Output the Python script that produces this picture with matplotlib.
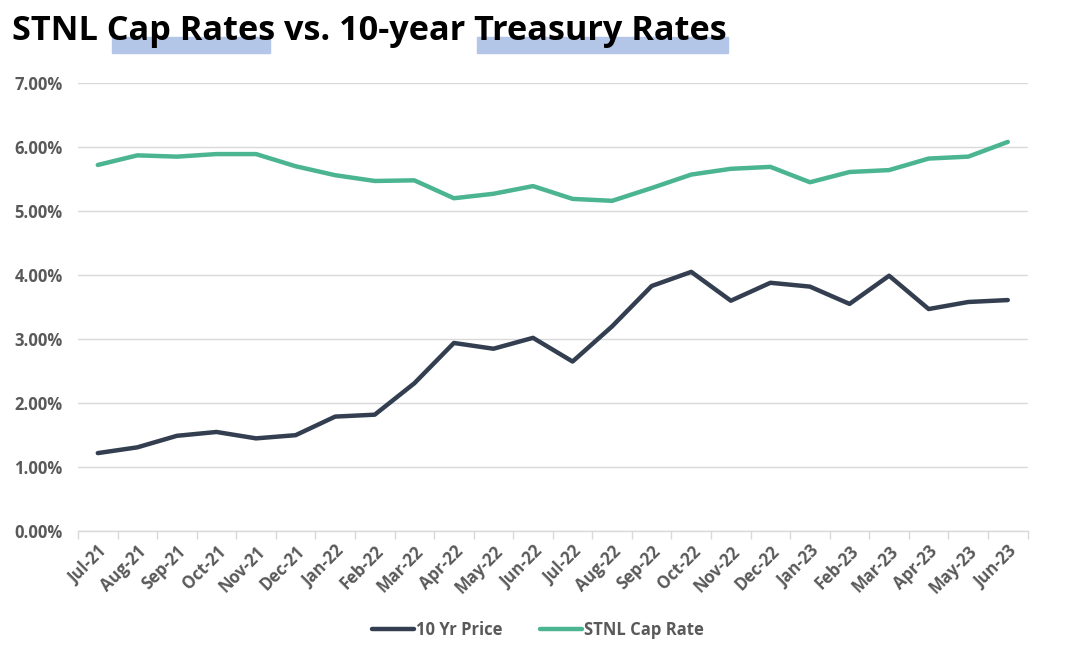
import matplotlib.pyplot as plt
from matplotlib.patches import Rectangle
from matplotlib.ticker import FuncFormatter

months = ['Jul-21', 'Aug-21', 'Sep-21', 'Oct-21', 'Nov-21', 'Dec-21',
          'Jan-22', 'Feb-22', 'Mar-22', 'Apr-22', 'May-22', 'Jun-22',
          'Jul-22', 'Aug-22', 'Sep-22', 'Oct-22', 'Nov-22', 'Dec-22',
          'Jan-23', 'Feb-23', 'Mar-23', 'Apr-23', 'May-23', 'Jun-23']

ten_yr = [1.22, 1.31, 1.49, 1.55, 1.45, 1.50, 1.79, 1.82, 2.31, 2.94, 2.85, 3.02,
          2.65, 3.20, 3.83, 4.05, 3.60, 3.88, 3.82, 3.55, 3.99, 3.47, 3.58, 3.61]

stnl_cap = [5.72, 5.87, 5.85, 5.89, 5.89, 5.70, 5.56, 5.47, 5.48, 5.20, 5.27, 5.39,
            5.19, 5.16, 5.36, 5.57, 5.66, 5.69, 5.45, 5.61, 5.64, 5.82, 5.85, 6.08]

plt.rcParams['font.family'] = ['Open Sans', 'DejaVu Sans']

dark = '#333F50'
green = '#4BB591'
grey = '#595959'

fig = plt.figure(figsize=(10.76, 6.51), dpi=100)
ax = fig.add_axes([0.0725, 0.184, 0.8825, 0.6885])

x = list(range(len(months)))
ax.plot(x, [v / 100 for v in ten_yr], color=dark, lw=3.2, label='10 Yr Price',
        solid_capstyle='round', solid_joinstyle='round')
ax.plot(x, [v / 100 for v in stnl_cap], color=green, lw=3.2, label='STNL Cap Rate',
        solid_capstyle='round', solid_joinstyle='round')

ax.set_xlim(-0.5, len(months) - 0.5)
ax.set_ylim(0, 0.07)
ax.set_yticks([i / 100 for i in range(8)])
ax.yaxis.set_major_formatter(FuncFormatter(lambda v, p: f'{v * 100:.2f}%'))
ax.grid(axis='y', color='#D9D9D9', lw=1)
ax.set_axisbelow(True)

for s in ['top', 'right', 'left']:
    ax.spines[s].set_visible(False)
ax.spines['bottom'].set_color('#D9D9D9')
ax.spines['bottom'].set_linewidth(1)

ax.set_xticks(x)
ax.set_xticklabels(months, rotation=45, ha='right', rotation_mode='anchor')
ax.set_xticks([i - 0.5 for i in range(len(months) + 1)], minor=True)
ax.tick_params(axis='x', which='major', length=0, pad=8, labelsize=12, labelcolor=grey)
ax.tick_params(axis='x', which='minor', length=6, color='#D9D9D9', width=1)
ax.tick_params(axis='y', length=0, pad=11, labelsize=12, labelcolor=grey)
for lab in ax.get_xticklabels() + ax.get_yticklabels():
    lab.set_fontweight('bold')

# title with highlight bars
fig.patches.append(Rectangle((112 / 1076, 1 - 53 / 651), 158 / 1076, 16 / 651,
                             transform=fig.transFigure, color='#B4C6E7', zorder=0))
fig.patches.append(Rectangle((477 / 1076, 1 - 53 / 651), 251 / 1076, 16 / 651,
                             transform=fig.transFigure, color='#B4C6E7', zorder=0))
fig.text(12 / 1076, 1 - 31 / 651, 'STNL Cap Rates vs. 10-year Treasury Rates',
         fontsize=24.7, fontweight='bold', color='black', va='center', ha='left', zorder=2)

leg = ax.legend(loc='center', bbox_to_anchor=(0.5, 1 - 630 / 651), bbox_transform=fig.transFigure,
                ncol=2, frameon=False, handlelength=2.5, handletextpad=0.1, columnspacing=2.3,
                prop={'weight': 'bold', 'size': 12})
for t in leg.get_texts():
    t.set_color(grey)

fig.savefig('out.png', dpi=100)
